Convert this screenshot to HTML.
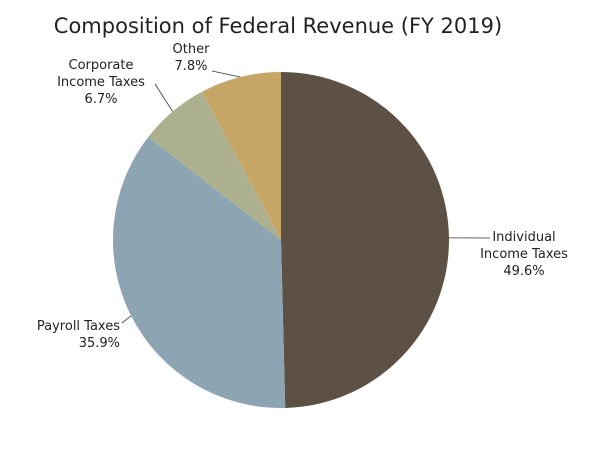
<!DOCTYPE html>
<html><head><meta charset="utf-8"><style>
body{margin:0;background:#fff;}
svg{display:block;font-family:"DejaVu Sans","Liberation Sans",sans-serif;}
</style></head><body>
<svg id="chart" width="600" height="450">
<text x="278" y="33" text-anchor="middle" font-size="21" fill="#222">Composition of Federal Revenue (FY 2019)</text>
<g id="slices"></g>
<g id="labels" font-size="13" fill="#222"></g>
</svg>
<script>
const categories=["Individual Income Taxes","Payroll Taxes","Corporate Income Taxes","Other"];
const values=[49.6,35.9,6.7,7.8];
const colors=["#5c5144","#8da4b3","#adb08e","#c6a667"];
const labelLines=[["Individual","Income Taxes","49.6%"],["Payroll Taxes","35.9%"],["Corporate","Income Taxes","6.7%"],["Other","7.8%"]];
const labelPos=[[524,241,"middle"],[120,330,"end"],[101,69,"middle"],[191,53,"middle"]];
const leaderEnd=[[490,238],[122,323],[155,84],[212,71]];
const cx=281,cy=240,r=168;
const ns="http://www.w3.org/2000/svg";
const total=values.reduce((a,b)=>a+b,0);
function pt(a,rr){return [cx+rr*Math.sin(a),cy-rr*Math.cos(a)];}
let a0=0;
const sg=document.getElementById('slices'),lg=document.getElementById('labels');
values.forEach((v,i)=>{
  const a1=a0+v/total*2*Math.PI;
  const p0=pt(a0,r),p1=pt(a1,r);
  const path=document.createElementNS(ns,'path');
  path.setAttribute('d',`M${cx},${cy}L${p0[0]},${p0[1]}A${r},${r} 0 ${a1-a0>Math.PI?1:0} 1 ${p1[0]},${p1[1]}Z`);
  path.setAttribute('fill',colors[i]);
  
  
  sg.appendChild(path);
  const mid=(a0+a1)/2,pm=pt(mid,r);
  const ln=document.createElementNS(ns,'line');
  ln.setAttribute('x1',pm[0]);ln.setAttribute('y1',pm[1]);
  ln.setAttribute('x2',leaderEnd[i][0]);ln.setAttribute('y2',leaderEnd[i][1]);
  ln.setAttribute('stroke','#333');ln.setAttribute('stroke-width','0.8');
  
  
  lg.appendChild(ln);
  const t=document.createElementNS(ns,'text');
  t.setAttribute('text-anchor',labelPos[i][2]);
  
  
  labelLines[i].forEach((s,k)=>{
    const ts=document.createElementNS(ns,'tspan');
    ts.setAttribute('x',labelPos[i][0]);ts.setAttribute('y',labelPos[i][1]+k*17);
    ts.textContent=s;t.appendChild(ts);
  });
  lg.appendChild(t);
  a0=a1;
});
</script>
</body></html>
